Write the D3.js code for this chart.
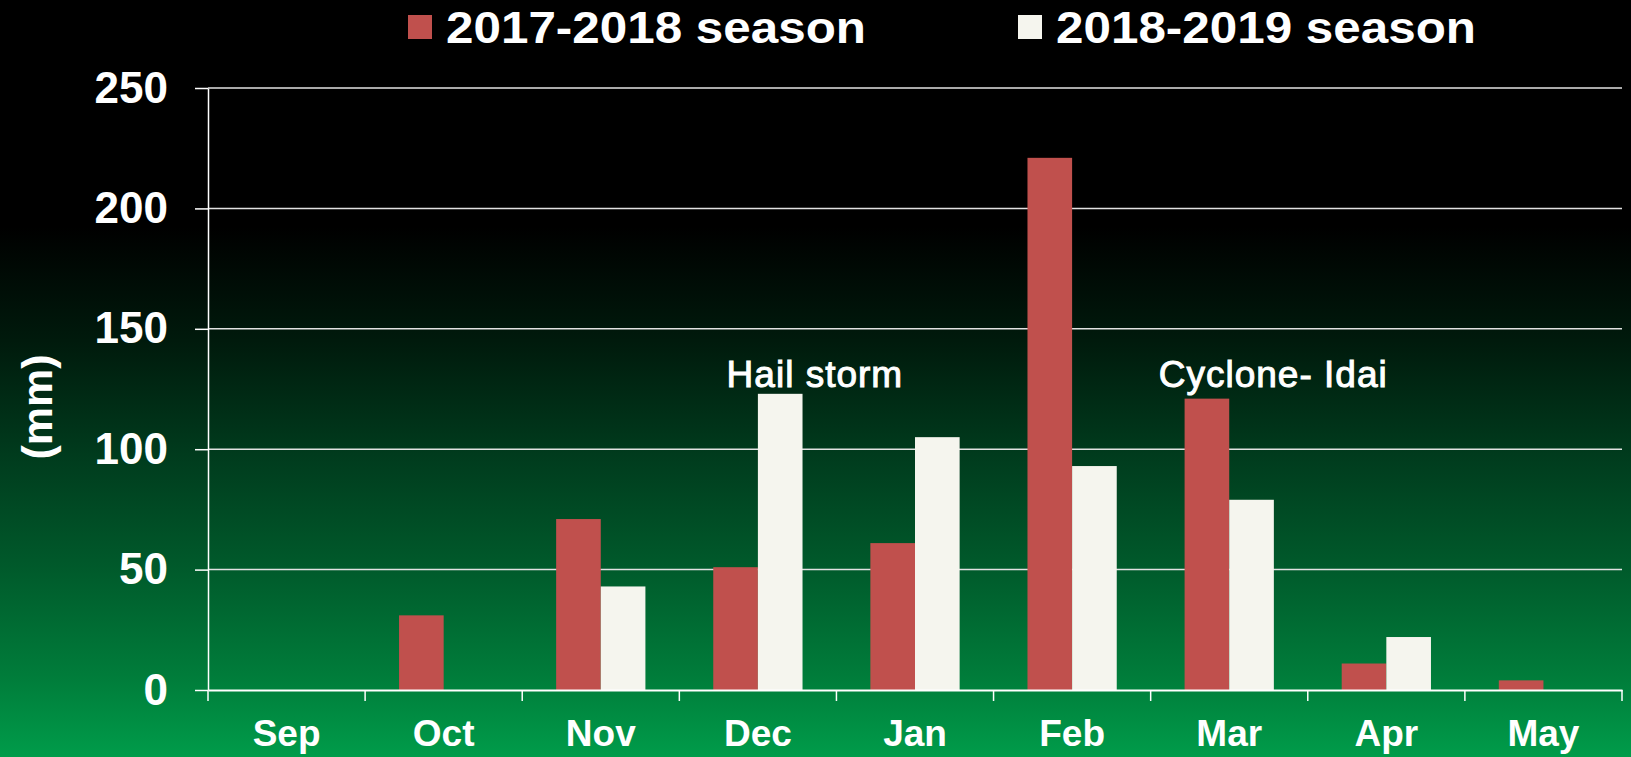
<!DOCTYPE html>
<html>
<head>
<meta charset="utf-8">
<script src="https://cdn.jsdelivr.net/npm/d3@7"></script>
<style>
  html, body { margin: 0; padding: 0; background: #000; }
  svg { display: block; }
  text { font-family: "Liberation Sans", Arial, Helvetica, sans-serif; fill: #fff; }
</style>
</head>
<body>
<svg id="chart" width="1631" height="757"></svg>
<script>
// Monthly rainfall (mm), two seasons
const months = ["Sep", "Oct", "Nov", "Dec", "Jan", "Feb", "Mar", "Apr", "May"];
const seriesNames = ["2017-2018 season", "2018-2019 season"];
const season1718 = [0, 31, 71, 51, 61, 221, 121, 11, 4];
const season1819 = [0, 0, 43, 123, 105, 93, 79, 22, 0];
const seriesColors = ["#c0504d", "#f5f5ee"];
const yTicks = [0, 50, 100, 150, 200, 250];
const annotations = [
  { month: "Dec", text: "Hail storm", level: 126 },
  { month: "Mar", text: "Cyclone- Idai", level: 126 }
];

const W = 1631, H = 757;
const margin = { top: 88, right: 9, bottom: 67, left: 208 };
const svg = d3.select("#chart");

// background: black fading into green toward the bottom
const defs = svg.append("defs");
const grad = defs.append("linearGradient")
  .attr("id", "bg").attr("x1", 0).attr("y1", 0).attr("x2", 0).attr("y2", 1);
[[0, "#000000"], [0.3, "#000000"], [0.45, "#001a0c"], [0.6, "#003b1d"],
 [0.75, "#005a2b"], [0.9, "#007e3b"], [1, "#009c4a"]]
  .forEach(([o, c]) => grad.append("stop").attr("offset", o).attr("stop-color", c));
svg.append("rect").attr("width", W).attr("height", H).attr("fill", "url(#bg)");

const x0 = d3.scaleBand().domain(months).range([margin.left, W - margin.right]).padding(0);
const x1 = d3.scaleBand().domain(seriesNames).range([0, x0.bandwidth()])
  .paddingInner(0).paddingOuter(0.76);
const y = d3.scaleLinear().domain([0, 250]).range([H - margin.bottom, margin.top]);

const rows = months.map((m, i) => ({ month: m, values: [season1718[i], season1819[i]] }));

// horizontal gridlines
svg.append("g")
  .selectAll("line")
  .data(yTicks.filter(v => v > 0))
  .join("line")
  .attr("x1", margin.left).attr("x2", W - margin.right)
  .attr("y1", d => y(d)).attr("y2", d => y(d))
  .attr("stroke", "#e2e2e2").attr("stroke-width", 1.5);

// bars
svg.append("g")
  .selectAll("g")
  .data(rows)
  .join("g")
  .attr("transform", d => `translate(${x0(d.month)},0)`)
  .selectAll("rect")
  .data(d => d.values.map((v, k) => ({ key: seriesNames[k], value: v, k })))
  .join("rect")
  .attr("x", d => x1(d.key))
  .attr("width", x1.bandwidth())
  .attr("y", d => y(d.value))
  .attr("height", d => y(0) - y(d.value))
  .attr("fill", d => seriesColors[d.k]);

// y axis
const yAxis = svg.append("g")
  .attr("transform", `translate(${margin.left},0)`)
  .call(d3.axisLeft(y).tickValues(yTicks).tickSize(13).tickPadding(27).tickSizeOuter(0));
yAxis.select(".domain").attr("stroke", "#fff").attr("stroke-width", 1.5);
yAxis.selectAll(".tick line").attr("stroke", "#fff").attr("stroke-width", 1.5);
yAxis.selectAll(".tick text")
  .attr("fill", "#fff").style("font-size", "44px").style("font-weight", "bold");

// x axis: labels centred in each band, ticks on band boundaries
const xAxis = svg.append("g")
  .attr("transform", `translate(0,${y(0)})`)
  .call(d3.axisBottom(x0).tickSize(0).tickPadding(30));
xAxis.select(".domain").attr("stroke", "#fff").attr("stroke-width", 2);
xAxis.selectAll(".tick text")
  .attr("fill", "#fff").style("font-size", "37px").style("font-weight", "bold");
const bounds = months.map(m => x0(m)).concat([x0.range()[1]]);
xAxis.append("g")
  .selectAll("line")
  .data(bounds)
  .join("line")
  .attr("x1", d => d).attr("x2", d => d)
  .attr("y1", 0).attr("y2", 11)
  .attr("stroke", "#fff").attr("stroke-width", 1.5);

// y axis title
svg.append("text")
  .attr("transform", `translate(37,${(margin.top + H - margin.bottom) / 2 + 18}) rotate(-90)`)
  .attr("text-anchor", "middle")
  .attr("dominant-baseline", "central")
  .style("font-size", "43px").style("font-weight", "bold")
  .text("(mm)");

// event annotations
const annOffset = { "Dec": 57, "Mar": 44 };
svg.append("g")
  .selectAll("text")
  .data(annotations)
  .join("text")
  .attr("x", d => x0(d.month) + x0.bandwidth() / 2 + annOffset[d.month])
  .attr("y", d => y(d.level))
  .attr("text-anchor", "middle")
  .style("font-size", "37px")
  .style("letter-spacing", "1px")
  .attr("stroke", "#fff").attr("stroke-width", 1)
  .text(d => d.text);

// legend
const legendX = [408, 1018];
const legend = svg.append("g");
seriesNames.forEach((name, k) => {
  legend.append("rect")
    .attr("x", legendX[k]).attr("y", 15)
    .attr("width", 24).attr("height", 24)
    .attr("fill", seriesColors[k]);
  legend.append("text")
    .attr("x", legendX[k] + 38).attr("y", 43)
    .attr("textLength", 420).attr("lengthAdjust", "spacingAndGlyphs")
    .style("font-size", "44px").style("font-weight", "bold")
    .text(name);
});
</script>
</body>
</html>
